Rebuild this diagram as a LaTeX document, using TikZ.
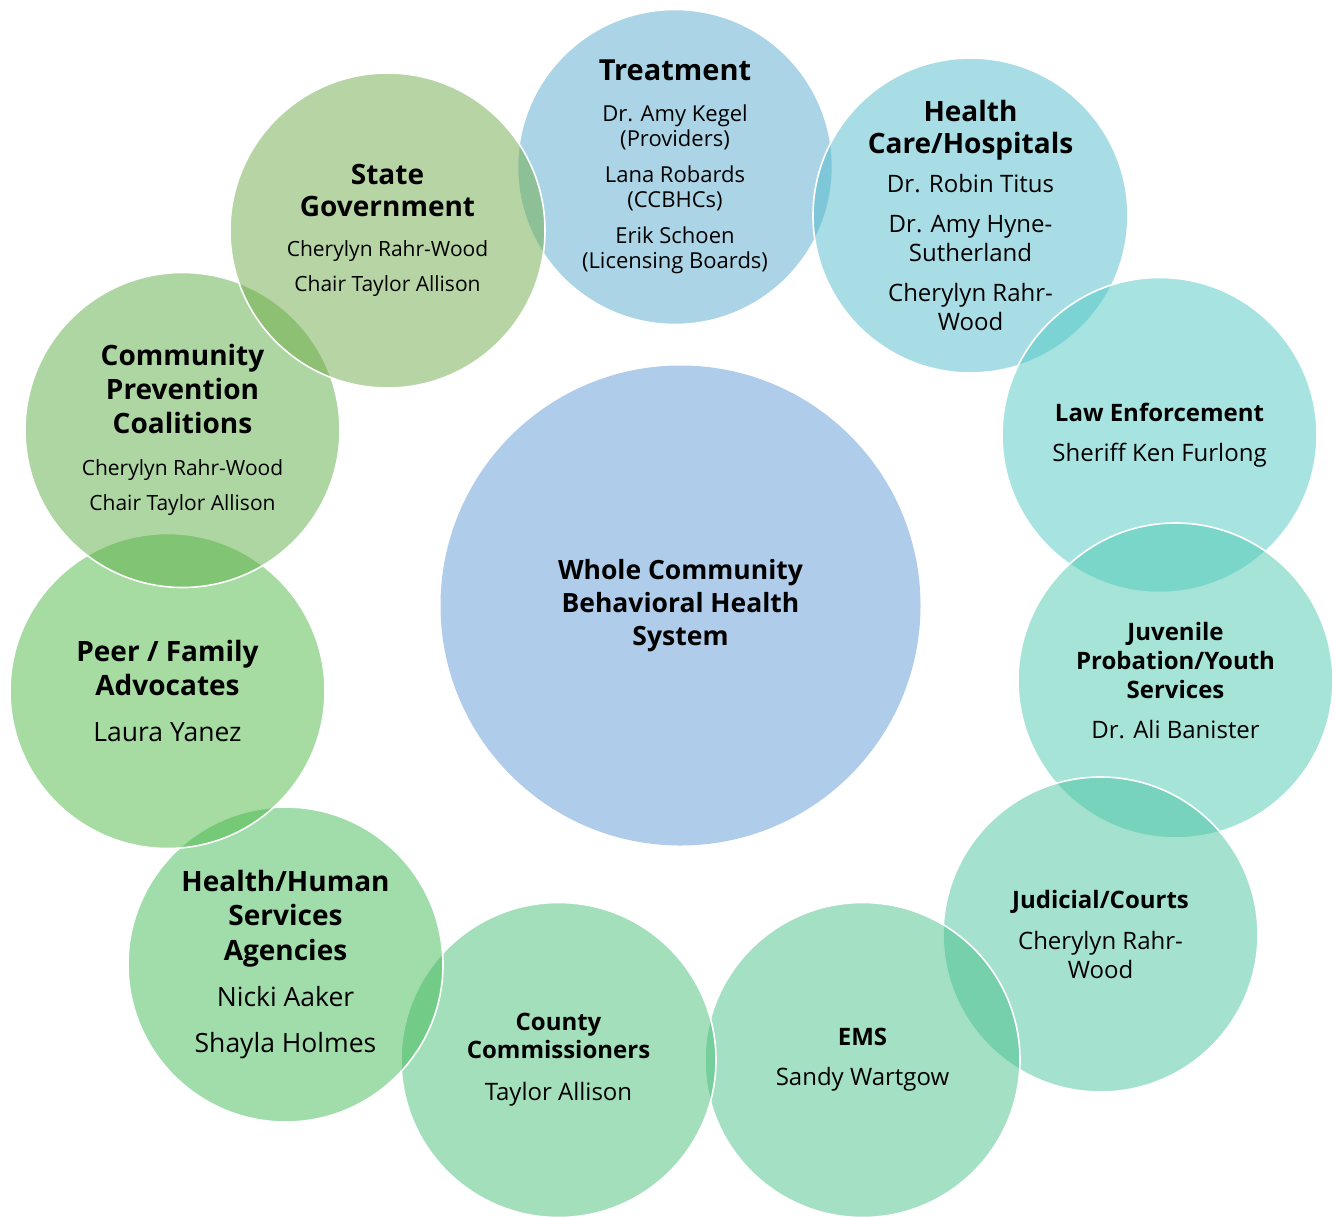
\documentclass[tikz,border=0pt]{standalone}
\usepackage{fontspec}
\setmainfont{Open Sans}
\usepackage{xcolor}
\usepackage{tikz}
\usetikzlibrary{shapes,positioning}

\definecolor{hubblue}{RGB}{175,204,234}
\definecolor{treatcol}{RGB}{87,171,205}
\definecolor{hospcol}{RGB}{83,187,205}
\definecolor{lawcol}{RGB}{79,201,195}
\definecolor{juvcol}{RGB}{77,201,177}
\definecolor{courtcol}{RGB}{75,195,159}
\definecolor{emscol}{RGB}{73,193,137}
\definecolor{countycol}{RGB}{71,191,117}
\definecolor{hhscol}{RGB}{67,185,87}
\definecolor{peercol}{RGB}{77,183,69}
\definecolor{coalcol}{RGB}{93,173,69}
\definecolor{statecol}{RGB}{111,171,73}

\begin{document}
\begin{tikzpicture}[
    x=1pt, y=-1pt,
    hub/.style={circle, fill=hubblue, minimum size=480pt, inner sep=0pt, align=center},
    ring/.style={circle, draw=white, line width=1.6pt, minimum size=315pt, inner sep=0pt,
                 fill opacity=0.5, draw opacity=1, text opacity=1, align=center}
]
\useasboundingbox (0,0) rectangle (1335,1216);

\node[hub, font=\fontsize{26.5}{33}\selectfont\bfseries] (whole) at (680.5,605.5)
    {Whole Community\\ Behavioral Health\\ System};

% ring of partners, drawn in stacking order
\node[ring, fill=treatcol, font=\fontsize{22}{25}\selectfont] (treat) at (675,167)
    {{\fontsize{29}{32}\selectfont\bfseries Treatment}\\[16pt]
     Dr. Amy Kegel\\ (Providers)\\[11pt]
     Lana Robards\\ (CCBHCs)\\[11pt]
     Erik Schoen\\ (Licensing Boards)};

\node[ring, fill=hospcol, font=\fontsize{24}{29}\selectfont] (hosp) at (970.5,215.5)
    {{\fontsize{28}{32}\selectfont\bfseries Health}\\[3pt]
     {\fontsize{28}{32}\selectfont\bfseries Care/Hospitals}\\[10pt]
     Dr. Robin Titus\\[11pt]
     Dr. Amy Hyne-\\ Sutherland\\[11pt]
     Cherylyn Rahr-\\ Wood};

\node[ring, fill=lawcol, font=\fontsize{24}{40}\selectfont] (law) at (1159.5,435)
    {{\fontsize{24}{28}\selectfont\bfseries Law Enforcement}\\
     Sheriff Ken Furlong};

\node[ring, fill=juvcol, font=\fontsize{24}{29}\selectfont] (juv) at (1175.5,680.5)
    {{\fontsize{24}{29}\selectfont\bfseries Juvenile}\\
     {\fontsize{24}{29}\selectfont\bfseries Probation/Youth}\\
     {\fontsize{24}{29}\selectfont\bfseries Services}\\[11pt]
     Dr. Ali Banister};

\node[ring, fill=courtcol, font=\fontsize{24}{29}\selectfont] (court) at (1100.5,934.5)
    {{\fontsize{24}{29}\selectfont\bfseries Judicial/Courts}\\[12pt]
     Cherylyn Rahr-\\ Wood};

\node[ring, fill=emscol, font=\fontsize{24}{40}\selectfont] (ems) at (862.5,1060)
    {{\fontsize{24}{29}\selectfont\bfseries EMS}\\
     Sandy Wartgow};

\node[ring, fill=countycol, font=\fontsize{24}{28}\selectfont] (county) at (558.5,1060)
    {{\fontsize{24}{28}\selectfont\bfseries County}\\
     {\fontsize{24}{28}\selectfont\bfseries Commissioners}\\[14pt]
     Taylor Allison};

\node[ring, fill=hhscol, font=\fontsize{26.5}{34.5}\selectfont] (hhs) at (285.5,964.5)
    {{\fontsize{28}{34}\selectfont\bfseries Health/Human}\\
     {\fontsize{28}{34}\selectfont\bfseries Services}\\
     {\fontsize{28}{34}\selectfont\bfseries Agencies}\\[12pt]
     Nicki Aaker\\[11pt]
     Shayla Holmes};

\node[ring, fill=peercol, font=\fontsize{26.5}{34}\selectfont] (peer) at (167.5,691)
    {{\fontsize{28}{34}\selectfont\bfseries Peer / Family}\\
     {\fontsize{28}{34}\selectfont\bfseries Advocates}\\[12pt]
     Laura Yanez};

\node[ring, fill=coalcol, font=\fontsize{21}{34}\selectfont] (coal) at (182.5,430)
    {{\fontsize{28}{34}\selectfont\bfseries Community}\\
     {\fontsize{28}{34}\selectfont\bfseries Prevention}\\
     {\fontsize{28}{34}\selectfont\bfseries Coalitions}\\[8pt]
     Cherylyn Rahr-Wood\\[1pt]
     Chair Taylor Allison};

\node[ring, fill=statecol, font=\fontsize{21}{32}\selectfont] (state) at (387.5,230.5)
    {{\fontsize{28}{32}\selectfont\bfseries State}\\
     {\fontsize{28}{32}\selectfont\bfseries Government}\\[8pt]
     Cherylyn Rahr-Wood\\[3pt]
     Chair Taylor Allison};

\end{tikzpicture}
\end{document}
